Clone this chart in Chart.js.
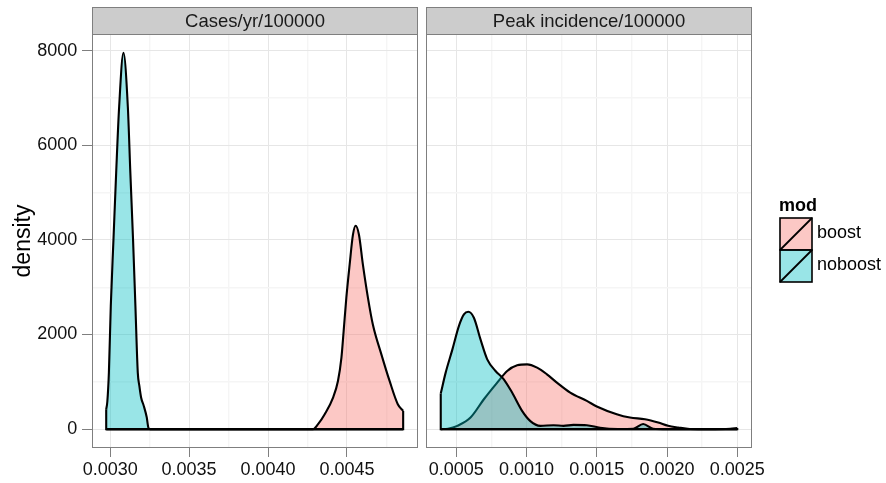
<!DOCTYPE html>
<html>
<head>
<meta charset="utf-8">
<script src="https://cdn.jsdelivr.net/npm/chart.js@4.4.0/dist/chart.umd.min.js"></script>
<style>
  html, body { margin: 0; padding: 0; background: #fff; }
  #wrap { position: relative; width: 886px; height: 483px; overflow: hidden;
          font-family: "Liberation Sans", Arial, sans-serif; }
  #casesCanvas { position: absolute; left: 0; top: 0; }
  #peakCanvas  { position: absolute; left: 420px; top: 0; }
  #legend { position: absolute; left: 779px; top: 195px; z-index: 2; color: #000; }
  #legend .ttl { font-weight: bold; font-size: 18px; line-height: 20px; height: 22px; }
  #legend .row { position: relative; height: 32px; }
  #legend svg { position: absolute; left: 0; top: 0; }
  #legend .lbl { position: absolute; left: 38px; top: 5px; font-size: 18px; line-height: 20px; white-space: nowrap; }
</style>
</head>
<body>
<div id="wrap">
  <canvas id="casesCanvas" width="420" height="483"></canvas>
  <canvas id="peakCanvas" width="466" height="483"></canvas>
  <div id="legend"></div>
</div>
<script>
// ---- facet titles, legend ----
const panelTitles = ['Cases/yr/100000', 'Peak incidence/100000'];
const legendTitle = 'mod';
const seriesNames = ['boost', 'noboost'];
const yTitle = 'density';

// ---- tick labels ----
const densityTicks = [0, 2000, 4000, 6000, 8000];
const casesTicks = [0.0030, 0.0035, 0.0040, 0.0045];
const peakTicks = [0.0005, 0.0010, 0.0015, 0.0020, 0.0025];

// ---- density estimates: [value, density] ----
const casesBoost = [
  [0.002975, 0], [0.004285, 0], [0.004317, 105], [0.004359, 316], [0.004412, 668],
  [0.004443, 1019], [0.004465, 1511], [0.004479, 2072], [0.004496, 2776], [0.004517, 3478],
  [0.004538, 4110], [0.004555, 4300], [0.004576, 4110], [0.004601, 3478], [0.004633, 2776],
  [0.004664, 2213], [0.004718, 1581], [0.004770, 1019], [0.004822, 527], [0.004856, 386]
];
const casesNoboost = [
  [0.002975, 420], [0.002982, 580], [0.002992, 1195], [0.003004, 2600],
  [0.003021, 4005], [0.003038, 5411], [0.003057, 6815], [0.003084, 7953], [0.003112, 6815],
  [0.003128, 5411], [0.003145, 4005], [0.003160, 2600], [0.003175, 1195], [0.003185, 913],
  [0.003196, 668], [0.003213, 491], [0.003232, 246], [0.003242, 35], [0.003253, 0],
  [0.004856, 0]
];
const peakBoost = [
  [0.000389, 0], [0.000440, 10], [0.000507, 70], [0.000601, 246], [0.000696, 632],
  [0.000791, 984], [0.000862, 1230], [0.000933, 1349], [0.001004, 1370], [0.001075, 1300],
  [0.001145, 1159], [0.001216, 984], [0.001311, 773], [0.001429, 597], [0.001500, 480],
  [0.001642, 316], [0.001736, 246], [0.001843, 211], [0.001937, 141], [0.002008, 70],
  [0.002079, 35], [0.002162, 5], [0.002300, 0], [0.002450, 10], [0.0025, 25]
];
const peakNoboost = [
  [0.000389, 752], [0.000424, 1195], [0.000472, 1686], [0.000518, 2178],
  [0.000554, 2424], [0.000585, 2481], [0.000625, 2355], [0.000672, 1897], [0.000720, 1476],
  [0.000779, 1230], [0.000838, 1054], [0.000897, 773], [0.000968, 386], [0.001027, 170],
  [0.001098, 70], [0.001192, 84], [0.001263, 70], [0.001334, 90], [0.001429, 84],
  [0.001523, 30], [0.001650, 5], [0.001760, 10], [0.001830, 110], [0.001901, 10],
  [0.002000, 0], [0.0025, 0]
];

// ---- styling ----
const FONT = '"Liberation Sans", Arial, Helvetica, sans-serif';
const fills = ['rgba(248,118,109,0.4)', 'rgba(0,191,196,0.4)'];
const GRID_MAJOR = '#e6e6e6';
const GRID_MINOR = '#f5f5f5';
const FRAME = '#7f7f7f';
const OUTLINE_W = 2.1;

Chart.defaults.font.family = FONT;

// major ticks plus the minor positions halfway between them
function withMinor(major) {
  const out = [];
  const step = major[1] - major[0];
  out.push(major[0] - step / 2);
  major.forEach(v => { out.push(v); out.push(v + step / 2); });
  return out;
}
function isMajor(v, major) {
  return major.some(m => Math.abs(m - v) < 1e-9 * Math.max(1, Math.abs(m)) + 1e-12);
}

// strip, panel frame, and the closing edges (sides + baseline) of each density polygon
const facetPlugin = {
  id: 'facet',
  afterDatasetDraw(chart, args) {
    const ds = chart.data.datasets[args.index];
    const pts = ds.data;
    const xs = chart.scales.x, ys = chart.scales.y;
    const ctx = chart.ctx;
    const y0 = ys.getPixelForValue(0);
    const first = pts[0], last = pts[pts.length - 1];
    const xa = xs.getPixelForValue(first.x), xb = xs.getPixelForValue(last.x);
    ctx.save();
    ctx.beginPath();
    ctx.moveTo(xa, ys.getPixelForValue(first.y));
    ctx.lineTo(xa, y0);
    ctx.lineTo(xb, y0);
    ctx.lineTo(xb, ys.getPixelForValue(last.y));
    ctx.strokeStyle = ds.borderColor;
    ctx.lineWidth = ds.borderWidth;
    ctx.lineJoin = 'miter';
    ctx.lineCap = 'butt';
    ctx.stroke();
    ctx.restore();
  },
  afterDraw(chart, args, opts) {
    const ctx = chart.ctx;
    const a = chart.chartArea;
    const L = Math.round(a.left), R = Math.round(a.right);
    const T = Math.round(a.top), B = Math.round(a.bottom);
    ctx.save();
    ctx.lineWidth = 1;
    ctx.strokeStyle = FRAME;
    ctx.strokeRect(L + 0.5, T + 0.5, R - L - 1, B - T - 1);
    const sh = 27, st = T - sh;
    ctx.fillStyle = '#cccccc';
    ctx.fillRect(L, st, R - L, sh);
    ctx.strokeRect(L + 0.5, st + 0.5, R - L - 1, sh);
    ctx.fillStyle = '#1a1a1a';
    ctx.font = '18.5px ' + FONT;
    ctx.textAlign = 'center';
    ctx.textBaseline = 'middle';
    ctx.fillText(opts.title, (L + R) / 2, st + sh / 2 + 1);
    ctx.restore();
  }
};

function makePanel(canvas, cfg) {
  const seriesData = [cfg.boost, cfg.noboost];
  const datasets = seriesData.map((pts, i) => ({
    label: seriesNames[i],
    data: pts.map(p => ({ x: p[0], y: p[1] })),
    backgroundColor: fills[i],
    borderColor: '#000',
    borderWidth: OUTLINE_W,
    fill: 'origin',
    pointRadius: 0,
    cubicInterpolationMode: 'monotone',
    borderJoinStyle: 'round',
    order: seriesNames.length - i
  }));
  const xMajor = cfg.ticks;
  const yMajor = densityTicks;
  return new Chart(canvas, {
    type: 'line',
    data: { datasets },
    plugins: [facetPlugin],
    options: {
      responsive: false,
      animation: false,
      events: [],
      layout: { padding: { top: 34, bottom: 0, left: cfg.padLeft, right: cfg.padRight } },
      plugins: {
        legend: { display: false },
        tooltip: { enabled: false },
        facet: { title: cfg.title }
      },
      scales: {
        x: {
          type: 'linear',
          min: cfg.min, max: cfg.max,
          afterBuildTicks: s => { s.ticks = withMinor(xMajor).filter(v => v >= cfg.min && v <= cfg.max).map(v => ({ value: v })); },
          afterFit: s => { s.height = 35; },
          border: { display: false },
          grid: {
            color: c => (c.tick && isMajor(c.tick.value, xMajor)) ? GRID_MAJOR : GRID_MINOR,
            lineWidth: c => (c.tick && isMajor(c.tick.value, xMajor)) ? 1 : 1.4,
            tickColor: c => (c.tick && isMajor(c.tick.value, xMajor)) ? FRAME : 'rgba(0,0,0,0)',
            tickLength: 9,
            tickWidth: 1
          },
          ticks: {
            autoSkip: false, maxRotation: 0, minRotation: 0, padding: 2,
            color: '#111',
            font: { size: 18, family: FONT },
            callback: v => isMajor(v, xMajor) ? v.toFixed(4) : ''
          }
        },
        y: {
          min: -398, max: 8351,
          afterBuildTicks: s => { s.ticks = withMinor(yMajor).filter(v => v >= -398 && v <= 8351).map(v => ({ value: v })); },
          afterFit: s => { s.width = cfg.showY ? 92 : 0; },
          border: { display: false },
          grid: {
            color: c => (c.tick && isMajor(c.tick.value, yMajor)) ? GRID_MAJOR : GRID_MINOR,
            lineWidth: c => (c.tick && isMajor(c.tick.value, yMajor)) ? 1 : 1.4,
            tickColor: c => (c.tick && isMajor(c.tick.value, yMajor)) ? FRAME : 'rgba(0,0,0,0)',
            tickLength: 10,
            drawTicks: cfg.showY
          },
          ticks: {
            display: cfg.showY,
            padding: 4.7,
            color: '#111',
            font: { size: 18, family: FONT },
            callback: v => isMajor(v, yMajor) ? String(v) : ''
          },
          title: {
            display: cfg.showY,
            text: yTitle,
            color: '#000',
            font: { size: 23, family: FONT },
            padding: { top: 10, bottom: 0 }
          }
        }
      }
    }
  });
}

makePanel(document.getElementById('casesCanvas'), {
  title: panelTitles[0], boost: casesBoost, noboost: casesNoboost, ticks: casesTicks,
  min: 0.002885, max: 0.00495, showY: true, padLeft: 0, padRight: 2
});
makePanel(document.getElementById('peakCanvas'), {
  title: panelTitles[1], boost: peakBoost, noboost: peakNoboost, ticks: peakTicks,
  min: 0.000284, max: 0.002605, showY: false, padLeft: 6, padRight: 134
});

// legend: filled key with a diagonal stroke, as in the density key glyph
const legend = document.getElementById('legend');
const ttl = document.createElement('div');
ttl.className = 'ttl';
ttl.textContent = legendTitle;
legend.appendChild(ttl);
seriesNames.forEach((name, i) => {
  const row = document.createElement('div');
  row.className = 'row';
  row.innerHTML =
    '<svg width="34" height="34" viewBox="0 0 34 34">' +
    '<rect x="1" y="1" width="32" height="32" fill="' + fills[i] + '" stroke="#000" stroke-width="1.6"/>' +
    '<line x1="1" y1="33" x2="33" y2="1" stroke="#000" stroke-width="1.8"/>' +
    '</svg><div class="lbl"></div>';
  row.querySelector('.lbl').textContent = name;
  legend.appendChild(row);
});
</script>
</body>
</html>
